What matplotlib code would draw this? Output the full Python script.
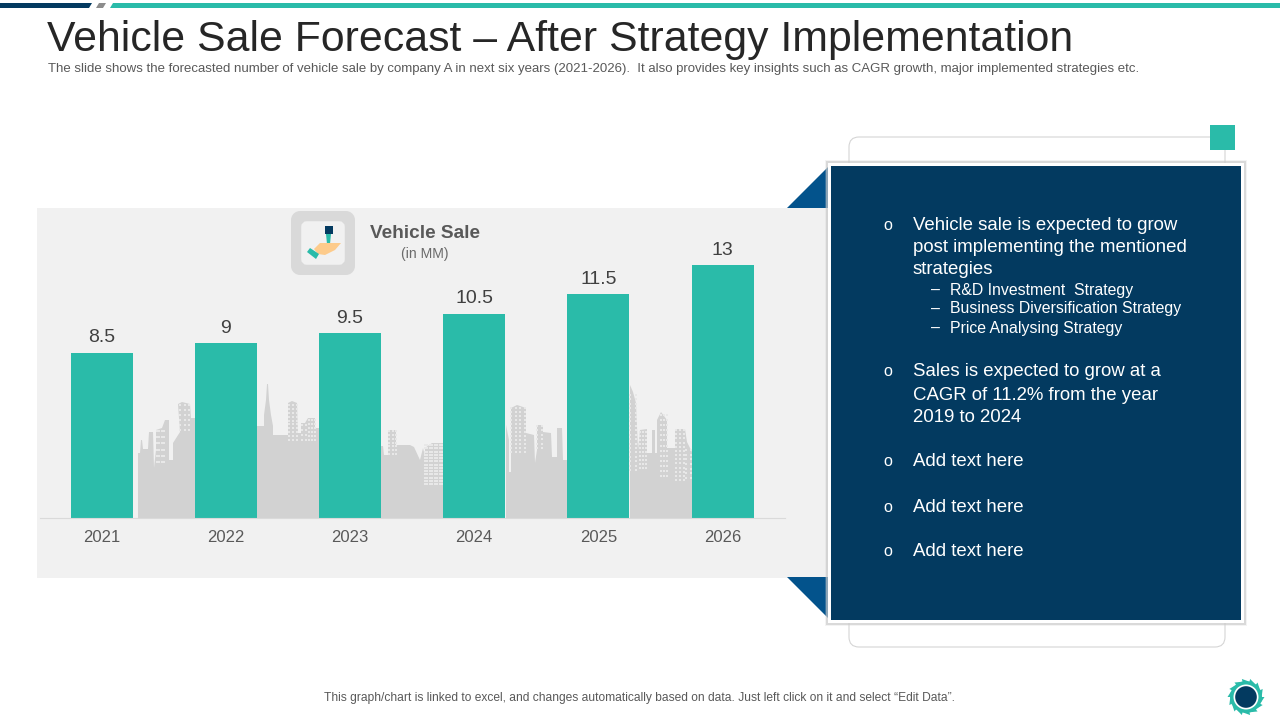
import numpy as np
import matplotlib
matplotlib.use("Agg")
import matplotlib.pyplot as plt
from matplotlib.patches import Rectangle, Polygon, FancyBboxPatch, Circle

plt.rcParams['font.family'] = ['Liberation Sans', 'DejaVu Sans']

years = ['2021', '2022', '2023', '2024', '2025', '2026']
sales = [8.5, 9, 9.5, 10.5, 11.5, 13]
sale_labels = ['8.5', '9', '9.5', '10.5', '11.5', '13']

TEAL = '#2ABBA9'
NAVY = '#033A60'
BLUE = '#03538C'
SKY = '#D2D2D2'

fig = plt.figure(figsize=(12.8, 7.2), dpi=100, facecolor='white')

# ---- background layer in pixel coordinates
bg = fig.add_axes([0, 0, 1, 1], zorder=0)
bg.set_xlim(0, 1280); bg.set_ylim(720, 0); bg.axis('off')

bg.add_patch(Polygon([(0, 3), (92, 3), (89, 8), (0, 8)], fc=NAVY, ec='none'))
bg.add_patch(Polygon([(99, 3), (106, 3), (103, 8), (96, 8)], fc='#8C8C8C', ec='none'))
bg.add_patch(Polygon([(113, 3), (1280, 3), (1280, 8), (110, 8)], fc=TEAL, ec='none'))

bg.add_patch(Rectangle((37, 208), 791, 370, fc='#F1F1F1', ec='none'))

skylines = [
    [(138, 518), (138, 453), (140, 453), (141, 440), (142, 440), (143, 449), (148, 449), (149, 432),
     (153, 432), (154, 468), (156, 450), (156, 430), (162, 428), (165, 420), (169, 420), (169, 460),
     (173, 460), (173, 443), (180, 432), (178, 404), (182, 402), (190, 404), (191, 418), (195, 418), (195, 518)],
    [(257, 518), (257, 426), (264, 426), (264, 415), (266, 400), (267, 384), (268, 384), (269, 400),
     (271, 415), (273, 426), (273, 435), (288, 435), (288, 403), (292, 401), (297, 403), (298, 433),
     (301, 433), (301, 423), (305, 423), (308, 418), (315, 418), (315, 428), (319, 428), (319, 518)],
    [(381, 518), (381, 446), (383, 446), (384, 455), (388, 455), (388, 430), (396, 430), (396, 445),
     (407, 445), (410, 445), (414, 447), (420, 460), (423, 448), (425, 456), (425, 448), (432, 443),
     (443, 443), (443, 518)],
    [(506, 518), (506, 425), (509, 440), (509, 472), (511, 472), (511, 408), (517, 405), (526, 408),
     (526, 433), (534, 435), (535, 463), (537, 450), (537, 425), (543, 425), (543, 432), (551, 433),
     (552, 457), (557, 457), (557, 428), (562, 428), (563, 460), (568, 460), (568, 518)],
    [(630, 518), (630, 385), (633, 392), (636, 403), (638, 450), (640, 430), (647, 429), (647, 453),
     (652, 453), (652, 430), (655, 430), (655, 453), (657, 453), (657, 420), (661, 412), (667, 420),
     (667, 448), (675, 448), (675, 429), (685, 429), (687, 442), (692, 452), (692, 518)],
]
for pts in skylines:
    bg.add_patch(Polygon(pts, fc=SKY, ec='none'))

# small lit windows on the skyline buildings
win_blocks = [(157, 431, 164, 462, 4, 6), (180, 405, 189, 430, 3, 6),
              (289, 405, 297, 440, 3, 10), (302, 425, 306, 440, 2, 4), (309, 420, 315, 440, 3, 6),
              (389, 431, 396, 454, 3, 7), (425, 445, 442, 484, 8, 13),
              (511, 408, 525, 452, 4, 12), (537, 426, 542, 448, 2, 6),
              (630, 395, 636, 470, 2, 18), (640, 432, 646, 468, 3, 10),
              (661, 415, 667, 476, 3, 13), (676, 430, 684, 480, 3, 13), (686, 450, 691, 478, 2, 7)]
for x0, y0, x1, y1, nx, ny in win_blocks:
    xs, ys = np.meshgrid(np.linspace(x0, x1, nx), np.linspace(y0, y1, ny))
    bg.scatter(xs.ravel(), ys.ravel(), s=1.2, marker='s', c='#E8E8E8', linewidths=0)

# ---- chart layer
ax = fig.add_axes([39.5 / 1280, 1 - 518 / 720, 745.2 / 1280, (518 - 208) / 720], zorder=1)
ax.patch.set_alpha(0)
x = np.arange(len(years))
bars = ax.bar(x, sales, width=0.5, color=TEAL, linewidth=0)
ax.set_xlim(-0.5, 5.5)
ax.set_ylim(0, 310 / 19.46)
ax.set_xticks(x, years, fontsize=12, color='#595959')
ax.tick_params(axis='x', length=0, pad=9)
ax.set_yticks([])
for s in ['top', 'left', 'right']:
    ax.spines[s].set_visible(False)
ax.spines['bottom'].set_color('#DADADA')
ax.spines['bottom'].set_linewidth(0.8)
for b, lab in zip(bars, sale_labels):
    ax.annotate(lab, (b.get_x() + b.get_width() / 2, b.get_height()), xytext=(0, 4.5),
                textcoords='offset points', ha='center', va='bottom', fontsize=14, color='#404040')

# ---- top layer in pixel coordinates
top = fig.add_axes([0, 0, 1, 1], zorder=2)
top.set_xlim(0, 1280); top.set_ylim(720, 0); top.axis('off'); top.patch.set_alpha(0)

top.text(47, 40, 'Vehicle Sale Forecast – After Strategy Implementation', fontsize=30.8,
         color='#262626', va='center', ha='left')
top.text(48, 69, 'The slide shows the forecasted number of vehicle sale by company A in next six years (2021-2026).  '
         'It also provides key insights such as CAGR growth, major implemented strategies etc.',
         fontsize=9.55, color='#595959', va='center', ha='left')

# icon
top.add_patch(FancyBboxPatch((299, 219), 48, 48, boxstyle='round,pad=0,rounding_size=1', fc='#D9D9D9', ec='#D9D9D9', lw=11.5, joinstyle='round'))
top.add_patch(FancyBboxPatch((304, 224), 38, 38, boxstyle='round,pad=0,rounding_size=3', fc='#F1F1F1', ec='#F1F1F1', lw=4))
top.add_patch(Rectangle((325, 226), 8, 8, fc=NAVY, ec='none'))
top.add_patch(Polygon([(326, 234), (331, 234), (330, 244), (327, 244)], fc=TEAL, ec='none'))
top.add_patch(Polygon([(314, 249), (320, 243), (330, 243), (341, 243), (335, 250), (325, 255), (318, 254)], fc='#FDCB8B', ec='none'))
top.add_patch(Polygon([(310, 248), (319, 254), (316, 259), (307, 252)], fc=TEAL, ec='none'))

top.text(425, 234, 'Vehicle Sale', fontsize=13.7, fontweight='bold', color='#595959', ha='center', va='center')
top.text(425, 254, '(in MM)', fontsize=10.1, color='#6B6B6B', ha='center', va='center')

# panel
top.add_patch(Polygon([(787, 208), (829, 166), (829, 208)], fc=BLUE, ec='none'))
top.add_patch(Polygon([(787, 577), (829, 577), (829, 619)], fc=BLUE, ec='none'))
top.add_patch(FancyBboxPatch((849, 137), 376, 510, boxstyle='round,pad=0,rounding_size=10', fc='white', ec='#D5D5D5', lw=0.8))
top.add_patch(Rectangle((1210, 125), 25, 25, fc=TEAL, ec='none'))
top.add_patch(Rectangle((825, 160), 422, 466, fc='#D0D0D0', ec='none', alpha=0.25))
top.add_patch(Rectangle((826, 161), 420, 464, fc='#C8C8C8', ec='none', alpha=0.6))
top.add_patch(Rectangle((828, 163), 416, 460, fc='white', ec='none'))
top.add_patch(Rectangle((831, 166), 410, 454, fc=NAVY, ec='none'))

BODY = 13.4
SUB = 11.4
main_lines = [(225, 'Vehicle sale is expected to grow', True), (248, 'post implementing the mentioned', False),
              (270, 'strategies', False), (372, 'Sales is expected to grow at a', True),
              (395, 'CAGR of 11.2% from the year', False), (417, '2019 to 2024', False),
              (462, 'Add text here', True), (507, 'Add text here', True), (552, 'Add text here', True)]
for y, t, bullet in main_lines:
    top.text(913, y, t, fontsize=BODY, color='white', va='center', ha='left')
    if bullet:
        top.text(888, y, 'o', fontsize=11.5, color='white', va='center', ha='center')
for y, t in [(290, 'R&D Investment  Strategy'), (309, 'Business Diversification Strategy'),
             (328, 'Price Analysing Strategy')]:
    top.text(931, y, '–', fontsize=SUB, color='white', va='center', ha='left')
    top.text(950, y, t, fontsize=SUB, color='white', va='center', ha='left')

top.text(639, 698, 'This graph/chart is linked to excel, and changes automatically based on data. Just left click on it and select “Edit Data”.',
         fontsize=8.68, color='#595959', ha='center', va='center')

# gear
cx, cy = 1246, 697
n = 14
for i in range(n):
    a = 2 * np.pi * i / n
    b = a + 2 * np.pi / n * 0.75
    top.add_patch(Polygon([(cx + 14 * np.cos(a), cy + 14 * np.sin(a)), (cx + 18.5 * np.cos(a), cy + 18.5 * np.sin(a)),
                           (cx + 16 * np.cos(b), cy + 16 * np.sin(b)), (cx + 14 * np.cos(b), cy + 14 * np.sin(b))], fc=TEAL, ec='none'))
top.add_patch(Circle((cx, cy), 16, fc=TEAL, ec='none'))
top.add_patch(Circle((cx, cy), 12.5, fc='white', ec='none'))
top.add_patch(Circle((cx, cy), 10.8, fc=NAVY, ec='none'))

fig.savefig('out.png', dpi=100, facecolor='white')
